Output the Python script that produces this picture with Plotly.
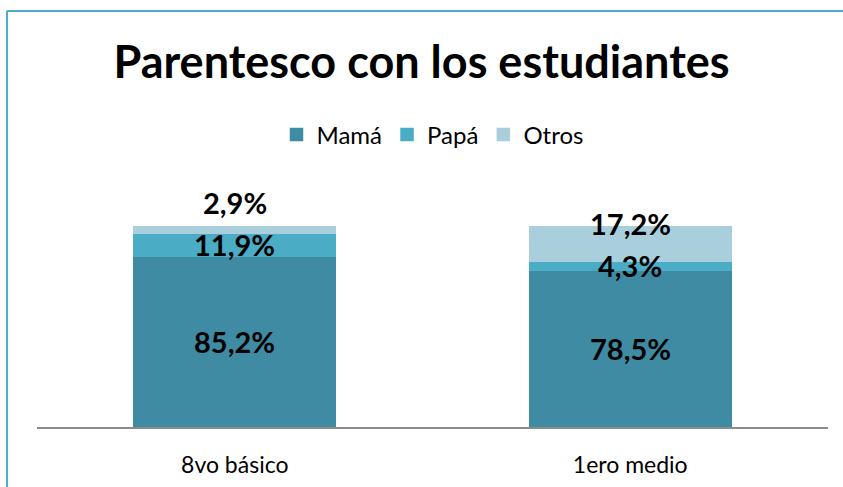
import plotly.graph_objects as go

categories = ["8vo básico", "1ero medio"]
mama = [85.2, 78.5]
papa = [11.9, 4.3]
otros = [2.9, 17.2]
series_names = ["Mamá", "Papá", "Otros"]
colors = ["#3E8BA3", "#4BACC6", "#A9CFDD"]

def fmt(v):
    return f"{v:.1f}%".replace(".", ",")

fig = go.Figure()
for name, vals, col in zip(series_names, [mama, papa, otros], colors):
    fig.add_trace(go.Bar(x=categories, y=vals, name=name,
                         marker=dict(color=col, line=dict(width=1.5, color=col))))

label_font = dict(family="Lato", size=29, color="#000000")
# data labels
for i, c in enumerate(categories):
    fig.add_annotation(x=c, y=mama[i] / 2, text=f"<b>{fmt(mama[i])}</b>", showarrow=False, font=label_font)
    fig.add_annotation(x=c, y=mama[i] + papa[i] / 2, text=f"<b>{fmt(papa[i])}</b>", showarrow=False, font=label_font)
    top = mama[i] + papa[i] + otros[i]
    fig.add_annotation(x=c, y=top, text=f"<b>{fmt(otros[i])}</b>", showarrow=False, font=label_font,
                       yanchor="bottom", yshift=5 if i == 0 else -16)

# chart frame (top and left edges visible in the reference)
border = dict(color="#4BACC6", width=2)
fig.add_shape(type="line", xref="paper", yref="paper", x0=-0.0379, x1=1.1, y0=1.733, y1=1.733,
              line=border, layer="below")
fig.add_shape(type="line", xref="paper", yref="paper", x0=-0.0379, x1=-0.0379, y0=1.733, y1=-0.5,
              line=border, layer="below")

fig.update_layout(
    width=843, height=487,
    margin=dict(l=37, r=15, t=187, b=60, autoexpand=False),
    paper_bgcolor="white", plot_bgcolor="white",
    barmode="stack", bargap=0.49,
    title=dict(text="<b>Parentesco con los estudiantes</b>", x=0.5, xanchor="center",
               y=1 - 62 / 487, yanchor="middle", font=dict(family="Lato", size=45, color="#000000")),
    legend=dict(orientation="h", x=0.5, xanchor="center", y=1.2167, yanchor="middle",
                font=dict(family="Lato", size=24, color="#000000"), itemwidth=30,
                traceorder="normal"),
    xaxis=dict(showline=True, linecolor="#8C8C8C", linewidth=1.5, ticks="outside", ticklen=17,
               tickcolor="rgba(0,0,0,0)", tickfont=dict(family="Lato", size=23, color="#000000"),
               showgrid=False, automargin=False),
    yaxis=dict(range=[0, 120], visible=False, showgrid=False, automargin=False),
    showlegend=True,
)

fig.write_html("out.html", config={"displayModeBar": False},
               post_script="document.body.style.margin='0';")
